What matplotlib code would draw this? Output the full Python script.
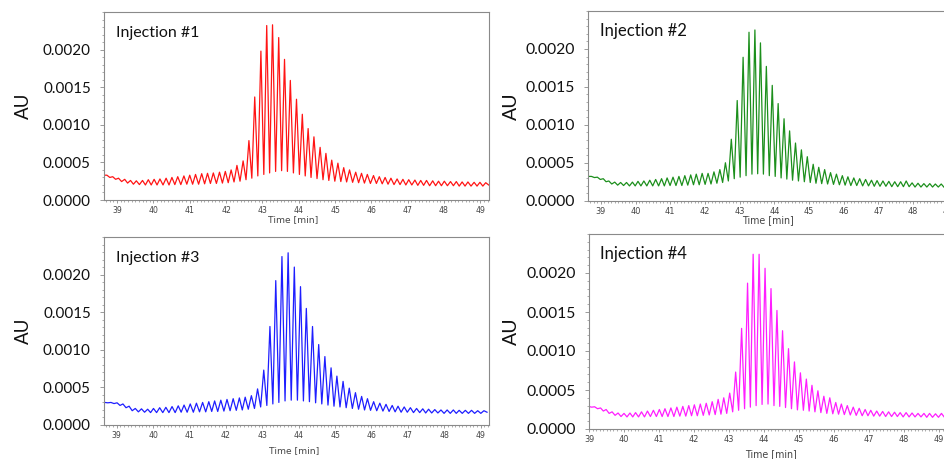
import numpy as np
import matplotlib
matplotlib.use("Agg")
import matplotlib.pyplot as plt
from matplotlib.ticker import MultipleLocator

# ---------------- data ----------------
titles = ["Injection #1", "Injection #2", "Injection #3", "Injection #4"]
colors = ["#ff1414", "#1c8f1c", "#1e1eff", "#ff1eff"]

y_ticks = [0.0, 0.0005, 0.0010, 0.0015, 0.0020]
y_tick_labels = ["0.0000", "0.0005", "0.0010", "0.0015", "0.0020"]
x_ticks = [39, 40, 41, 42, 43, 44, 45, 46, 47, 48, 49]
x_tick_labels = ["39", "40", "41", "42", "43", "44", "45", "46", "47", "48", "49"]

# Peak apex times (min), apex heights and the valley heights before each
# apex (last valley closes the trace); heights in units of 1e-4 AU.
inj1_peak_t = [38.72, 38.88, 39.04, 39.21, 39.37, 39.53, 39.70, 39.86, 40.02, 40.18,
               40.35, 40.51, 40.67, 40.84, 41.00, 41.16, 41.33, 41.49, 41.65, 41.82,
               41.98, 42.14, 42.30, 42.47, 42.63, 42.79, 42.96, 43.12, 43.28, 43.45,
               43.61, 43.77, 43.94, 44.10, 44.26, 44.42, 44.59, 44.75, 44.91, 45.08,
               45.24, 45.40, 45.57, 45.73, 45.89, 46.06, 46.22, 46.38, 46.54, 46.71,
               46.87, 47.03, 47.20, 47.36, 47.52, 47.69, 47.85, 48.01, 48.18, 48.34,
               48.50, 48.66, 48.83, 48.99, 49.15]
inj1_peak_h = [3.3, 3.1, 2.9, 2.75, 2.6, 2.55, 2.6, 2.7, 2.75, 2.8,
               2.9, 3.0, 3.1, 3.2, 3.3, 3.4, 3.5, 3.55, 3.6, 3.7,
               3.8, 4.0, 4.6, 5.2, 7.9, 13.7, 19.8, 23.2, 23.3, 21.6,
               18.7, 15.9, 13.4, 11.4, 9.5, 8.4, 7.0, 6.2, 5.3, 4.9,
               4.3, 4.0, 3.7, 3.55, 3.4, 3.25, 3.1, 3.0, 2.9, 2.8,
               2.75, 2.7, 2.65, 2.6, 2.6, 2.55, 2.5, 2.5, 2.45, 2.45,
               2.4, 2.4, 2.35, 2.35, 2.3]
inj1_valley_h = [3.3, 3.0, 2.75, 2.45, 2.25, 2.1, 2.05, 2.0, 2.0, 2.0,
                 2.0, 2.0, 2.05, 2.05, 2.1, 2.1, 2.1, 2.15, 2.2, 2.2,
                 2.25, 2.3, 2.4, 2.5, 2.7, 2.9, 3.2, 3.4, 3.6, 3.8,
                 3.9, 3.8, 3.6, 3.4, 3.2, 3.0, 2.85, 2.7, 2.6, 2.5,
                 2.45, 2.4, 2.35, 2.3, 2.25, 2.2, 2.2, 2.15, 2.1, 2.05,
                 2.05, 2.0, 2.0, 1.95, 1.95, 1.9, 1.9, 1.9, 1.9, 1.9,
                 1.85, 1.85, 1.85, 1.85, 1.85, 2.0]

inj2_peak_t = [38.73, 38.90, 39.07, 39.23, 39.40, 39.57, 39.74, 39.91, 40.07, 40.24,
               40.41, 40.58, 40.75, 40.91, 41.08, 41.25, 41.42, 41.59, 41.75, 41.92,
               42.09, 42.26, 42.43, 42.59, 42.76, 42.93, 43.10, 43.27, 43.44, 43.60,
               43.77, 43.94, 44.11, 44.28, 44.44, 44.61, 44.78, 44.95, 45.12, 45.28,
               45.45, 45.62, 45.79, 45.96, 46.12, 46.29, 46.46, 46.63, 46.80, 46.96,
               47.13, 47.30, 47.47, 47.64, 47.80, 47.97, 48.14, 48.31, 48.48, 48.64,
               48.81, 48.98, 49.15]
inj2_peak_h = [3.2, 3.1, 2.9, 2.6, 2.45, 2.4, 2.4, 2.45, 2.55, 2.6,
               2.7, 2.8, 2.9, 3.0, 3.1, 3.2, 3.3, 3.4, 3.5, 3.6,
               3.6, 3.8, 4.1, 5.0, 8.1, 13.2, 18.9, 22.2, 22.5, 20.8,
               17.7, 15.2, 12.8, 10.8, 9.2, 7.6, 6.7, 5.8, 4.8, 4.4,
               4.1, 3.7, 3.5, 3.3, 3.15, 3.0, 2.9, 2.8, 2.7, 2.65,
               2.6, 2.55, 2.5, 2.5, 2.6, 2.35, 2.3, 2.25, 2.25, 2.2,
               2.2, 2.2, 2.2]
inj2_valley_h = [3.2, 3.05, 2.8, 2.5, 2.2, 2.05, 2.0, 1.95, 1.95, 1.95,
                 1.95, 1.95, 1.95, 1.95, 2.0, 2.0, 2.0, 2.05, 2.1, 2.1,
                 2.15, 2.2, 2.3, 2.4, 2.6, 2.9, 3.1, 3.3, 3.5, 3.55,
                 3.5, 3.3, 3.2, 3.0, 2.85, 2.7, 2.6, 2.5, 2.4, 2.3,
                 2.25, 2.2, 2.15, 2.1, 2.05, 2.0, 2.0, 1.95, 1.95, 1.9,
                 1.9, 1.9, 1.85, 1.85, 1.85, 1.85, 1.8, 1.8, 1.8, 1.8,
                 1.8, 1.75, 1.75, 1.8]

inj3_peak_t = [38.67, 38.84, 39.01, 39.17, 39.34, 39.51, 39.68, 39.85, 40.01, 40.18,
               40.35, 40.52, 40.69, 40.85, 41.02, 41.19, 41.36, 41.53, 41.69, 41.86,
               42.03, 42.20, 42.37, 42.53, 42.70, 42.87, 43.04, 43.21, 43.37, 43.54,
               43.71, 43.88, 44.05, 44.21, 44.38, 44.55, 44.72, 44.89, 45.05, 45.22,
               45.39, 45.56, 45.73, 45.89, 46.06, 46.23, 46.40, 46.57, 46.73, 46.90,
               47.07, 47.24, 47.41, 47.57, 47.74, 47.91, 48.08, 48.25, 48.41, 48.58,
               48.75, 48.92, 49.09]
inj3_peak_h = [3.0, 3.0, 2.95, 2.8, 2.5, 2.2, 2.15, 2.1, 2.2, 2.3,
               2.35, 2.45, 2.55, 2.65, 2.8, 2.9, 3.0, 3.1, 3.2, 3.3,
               3.4, 3.5, 3.6, 3.7, 3.9, 4.8, 7.3, 13.1, 19.2, 22.4,
               22.9, 21.0, 18.4, 15.5, 13.1, 10.7, 9.1, 7.6, 6.5, 5.8,
               4.9, 4.3, 3.8, 3.5, 3.1, 2.9, 2.75, 2.6, 2.5, 2.4,
               2.3, 2.2, 2.15, 2.1, 2.05, 2.0, 2.0, 2.0, 1.95, 1.95,
               1.95, 1.9, 1.9]
inj3_valley_h = [3.0, 2.95, 2.85, 2.6, 2.3, 1.9, 1.75, 1.7, 1.65, 1.65,
                 1.65, 1.65, 1.65, 1.7, 1.7, 1.7, 1.75, 1.75, 1.8, 1.8,
                 1.85, 1.9, 1.95, 2.0, 2.1, 2.2, 2.4, 2.6, 2.8, 3.0,
                 3.2, 3.3, 3.3, 3.2, 3.1, 2.95, 2.8, 2.65, 2.5, 2.4,
                 2.3, 2.2, 2.1, 2.0, 1.95, 1.9, 1.85, 1.8, 1.75, 1.7,
                 1.7, 1.65, 1.65, 1.6, 1.6, 1.6, 1.55, 1.55, 1.55, 1.55,
                 1.55, 1.55, 1.55, 1.7]

inj4_peak_t = [38.99, 39.16, 39.33, 39.49, 39.66, 39.83, 40.00, 40.17, 40.33, 40.50,
               40.67, 40.84, 41.01, 41.17, 41.34, 41.51, 41.68, 41.85, 42.01, 42.18,
               42.35, 42.52, 42.69, 42.85, 43.02, 43.19, 43.36, 43.53, 43.69, 43.86,
               44.03, 44.20, 44.37, 44.53, 44.70, 44.87, 45.04, 45.21, 45.37, 45.54,
               45.71, 45.88, 46.05, 46.21, 46.38, 46.55, 46.72, 46.89, 47.05, 47.22,
               47.39, 47.56, 47.73, 47.89, 48.06, 48.23, 48.40, 48.57, 48.73, 48.90,
               49.07, 49.24]
inj4_peak_h = [2.9, 2.85, 2.7, 2.5, 2.2, 2.05, 2.0, 2.05, 2.1, 2.2,
               2.3, 2.4, 2.5, 2.6, 2.7, 2.8, 2.9, 3.0, 3.1, 3.2,
               3.3, 3.5, 3.8, 4.0, 4.6, 7.3, 12.9, 18.7, 22.4, 22.4,
               20.6, 18.0, 15.2, 12.6, 10.3, 8.6, 7.2, 6.4, 5.6, 4.9,
               4.2, 4.0, 3.4, 3.2, 3.0, 2.8, 2.65, 2.5, 2.4, 2.3,
               2.25, 2.2, 2.15, 2.1, 2.1, 2.05, 2.0, 2.0, 2.0, 1.95,
               2.0, 2.0]
inj4_valley_h = [2.95, 2.8, 2.6, 2.3, 2.0, 1.75, 1.6, 1.55, 1.55, 1.55,
                 1.55, 1.6, 1.6, 1.6, 1.6, 1.6, 1.65, 1.65, 1.7, 1.7,
                 1.75, 1.8, 1.85, 1.9, 2.0, 2.2, 2.4, 2.6, 2.8, 3.0,
                 3.15, 3.2, 3.0, 2.9, 2.75, 2.6, 2.45, 2.4, 2.3, 2.2,
                 2.1, 2.0, 1.95, 1.9, 1.85, 1.8, 1.75, 1.7, 1.7, 1.65,
                 1.65, 1.6, 1.6, 1.6, 1.55, 1.55, 1.55, 1.55, 1.5, 1.5,
                 1.5, 1.5, 1.6]

series = [
    (inj1_peak_t, inj1_peak_h, inj1_valley_h),
    (inj2_peak_t, inj2_peak_h, inj2_valley_h),
    (inj3_peak_t, inj3_peak_h, inj3_valley_h),
    (inj4_peak_t, inj4_peak_h, inj4_valley_h),
]

# ---------------- layout (pixel-derived, figure fractions) ----------------
W, H = 945, 459
panels = [
    dict(rect=[104 / W, 259 / H, 385 / W, 188 / H], xlim=(38.64, 49.24), s=1.0,
         tpos=(0.031, 0.925), ylx=-0.187, xl=(0.49, -0.082)),
    dict(rect=[588 / W, 258.3 / H, 368.5 / W, 189.7 / H], xlim=(38.63, 49.25), s=1.04,
         tpos=(0.033, 0.937), ylx=-0.185, xl=(0.488, -0.078)),
    dict(rect=[104 / W, 34 / H, 385 / W, 188 / H], xlim=(38.65, 49.23), s=1.0,
         tpos=(0.030, 0.925), ylx=-0.187, xl=(0.495, -0.112)),
    dict(rect=[589 / W, 30 / H, 360.5 / W, 195 / H], xlim=(39.0, 49.3), s=1.04,
         tpos=(0.030, 0.937), ylx=-0.191, xl=(0.505, -0.104)),
]


def trace(peak_t, peak_h, valley_h):
    pt = np.asarray(peak_t, dtype=float)
    ph = np.asarray(peak_h, dtype=float) * 1e-4
    vh = np.asarray(valley_h, dtype=float) * 1e-4
    vt = np.concatenate([[pt[0] - (pt[1] - pt[0]) / 2],
                         (pt[:-1] + pt[1:]) / 2,
                         [pt[-1] + (pt[-1] - pt[-2]) / 2]])
    x = np.empty(len(pt) + len(vt))
    y = np.empty_like(x)
    x[0::2], y[0::2] = vt, vh
    x[1::2], y[1::2] = pt, ph
    return x, y


fig = plt.figure(figsize=(W / 100, H / 100), dpi=100)
fig.patch.set_facecolor("white")

spine_col = "#8a8a8a"
for i, p in enumerate(panels):
    ax = fig.add_axes(p["rect"])
    x, y = trace(*series[i])
    ax.plot(x, y, color=colors[i], lw=0.9)
    ax.set_xlim(*p["xlim"])
    ax.set_ylim(0, 0.0025)
    s = p["s"]

    ax.set_yticks(y_ticks)
    ax.set_yticklabels(y_tick_labels, fontfamily="Lato", fontsize=10.9 * s, color="#111111")
    ax.set_xticks(x_ticks)
    ax.set_xticklabels(x_tick_labels, fontfamily="DejaVu Sans", fontsize=5.6 * s, color="#444444")
    ax.xaxis.set_minor_locator(MultipleLocator(0.1))
    ax.yaxis.set_minor_locator(MultipleLocator(0.0001))

    ax.tick_params(axis="y", which="major", direction="out", length=3, width=0.6,
                   color=spine_col, pad=6.5)
    ax.tick_params(axis="y", which="minor", direction="out", length=1.6, width=0.5,
                   color=spine_col)
    ax.tick_params(axis="x", which="major", direction="out", length=2.2, width=0.6,
                   color=spine_col, pad=2.0)
    ax.tick_params(axis="x", which="minor", direction="out", length=1.2, width=0.5,
                   color=spine_col)

    for sp in ax.spines.values():
        sp.set_color(spine_col)
        sp.set_linewidth(0.8)

    ax.set_ylabel("AU", fontfamily="Lato", fontsize=13.5 * s, color="#111111")
    ax.yaxis.set_label_coords(p["ylx"], 0.5)
    ax.set_xlabel("Time [min]", fontfamily="DejaVu Sans", fontsize=6.6 * s, color="#444444")
    ax.xaxis.set_label_coords(*p["xl"])

    ax.text(p["tpos"][0], p["tpos"][1], titles[i], transform=ax.transAxes,
            fontfamily="Lato", fontsize=11.5 * s, color="#111111", ha="left", va="top")

fig.savefig("out.png", dpi=100)
